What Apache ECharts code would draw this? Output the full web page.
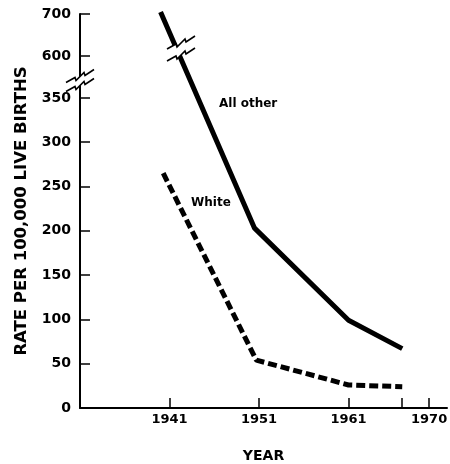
<!DOCTYPE html>
<html>
<head>
<meta charset="utf-8">
<script src="https://cdn.jsdelivr.net/npm/echarts@6/dist/echarts.min.js"></script>
<style>
  html, body { margin: 0; padding: 0; background: #fff; }
  #main { width: 450px; height: 464px; }
</style>
</head>
<body>
<div id="main"></div>
<script>
// values
var allOtherYears = [1940, 1950.5, 1961, 1967];
var allOtherRates = [705, 203, 99, 67];
var whiteYears = [1940.3, 1950.7, 1961, 1967];
var whiteRates = [265, 54, 26, 24];

var yTicks = [0, 50, 100, 150, 200, 250, 300, 350, 600, 700];
var xTicks = [1941, 1951, 1961, 1967, 1970];
var xLabels = [1941, 1951, 1961, 1970];

// broken axis: 0-350 at full scale, 600-700 squeezed above the break
var breakLow = 350, breakHigh = 600, upperBase = 397.3, upperK = 0.474;
function toDisp(v) {
    return v <= breakLow ? v : upperBase + (v - breakHigh) * upperK;
}
function fromDisp(d) {
    return d <= breakLow + 1 ? d : breakHigh + (d - upperBase) / upperK;
}

function pairs(xs, ys) {
    var out = [];
    for (var i = 0; i < xs.length; i++) {
        out.push([xs[i], toDisp(ys[i])]);
    }
    return out;
}

var font = 'DejaVu Sans';
var myChart = echarts.init(document.getElementById('main'));

// little "lightning" break mark
function zig(cx, cy) {
    return [[cx - 14, cy + 7], [cx - 5, cy + 2], [cx - 4, cy + 5], [cx + 4, cy - 3], [cx + 5, cy], [cx + 14, cy - 6]];
}
function breakMark(cx, cy, gap) {
    var up = zig(cx, cy - gap / 2), lo = zig(cx, cy + gap / 2);
    return [{
        type: 'polygon',
        shape: { points: up.concat(lo.slice().reverse()) },
        style: { fill: '#fff', stroke: null },
        z: 100
    }, {
        type: 'polyline',
        shape: { points: up },
        style: { stroke: '#000', lineWidth: 1.6, fill: null },
        z: 101
    }, {
        type: 'polyline',
        shape: { points: lo },
        style: { stroke: '#000', lineWidth: 1.6, fill: null },
        z: 101
    }];
}

myChart.setOption({
    animation: false,
    backgroundColor: '#fff',
    grid: { left: 80, right: 3, top: 14, bottom: 56, outerBoundsMode: 'none', containLabel: false },
    xAxis: {
        type: 'value',
        min: 1931,
        max: 1972,
        name: 'YEAR',
        nameLocation: 'middle',
        nameGap: 41,
        nameTextStyle: { fontFamily: font, fontSize: 14, color: '#000', fontWeight: 'bold' },
        splitLine: { show: false },
        axisLine: { lineStyle: { color: '#000', width: 2 } },
        axisTick: { inside: true, length: 10, customValues: xTicks, lineStyle: { color: '#000', width: 1.5 } },
        axisLabel: {
            customValues: xLabels,
            margin: 5,
            fontFamily: font,
            fontSize: 13,
            fontWeight: 'bold',
            color: '#000',
            formatter: function (v) { return String(v); }
        }
    },
    yAxis: {
        type: 'value',
        min: 0,
        max: toDisp(700),
        name: 'RATE PER 100,000 LIVE BIRTHS',
        nameLocation: 'middle',
        nameGap: 50,
        nameTextStyle: { fontFamily: font, fontSize: 16.5, fontWeight: 'bold', color: '#000' },
        splitLine: { show: false },
        axisLine: { show: true, lineStyle: { color: '#000', width: 2 } },
        axisTick: { inside: true, length: 10, customValues: yTicks.map(toDisp), lineStyle: { color: '#000', width: 1.5 } },
        axisLabel: {
            customValues: yTicks.map(toDisp),
            margin: 9,
            fontFamily: font,
            fontSize: 14,
            fontWeight: 'bold',
            color: '#000',
            formatter: function (v) { return String(Math.round(fromDisp(v) / 50) * 50); }
        }
    },
    series: [{
        name: 'All other',
        type: 'line',
        data: pairs(allOtherYears, allOtherRates),
        showSymbol: false,
        clip: false,
        lineStyle: { color: '#000', width: 5, cap: 'butt' }
    }, {
        name: 'White',
        type: 'line',
        data: pairs(whiteYears, whiteRates),
        showSymbol: false,
        clip: false,
        lineStyle: { color: '#000', width: 5, type: [9, 4], cap: 'butt' }
    }],
    graphic: breakMark(80, 80, 9).concat(breakMark(181, 48, 12)).concat([{
        type: 'text',
        left: 219, top: 98,
        style: { text: 'All other', fontFamily: font, fontSize: 12, fontWeight: 'bold', fill: '#000' }
    }, {
        type: 'text',
        left: 191, top: 197,
        style: { text: 'White', fontFamily: font, fontSize: 12, fontWeight: 'bold', fill: '#000' }
    }])
});
</script>
</body>
</html>
